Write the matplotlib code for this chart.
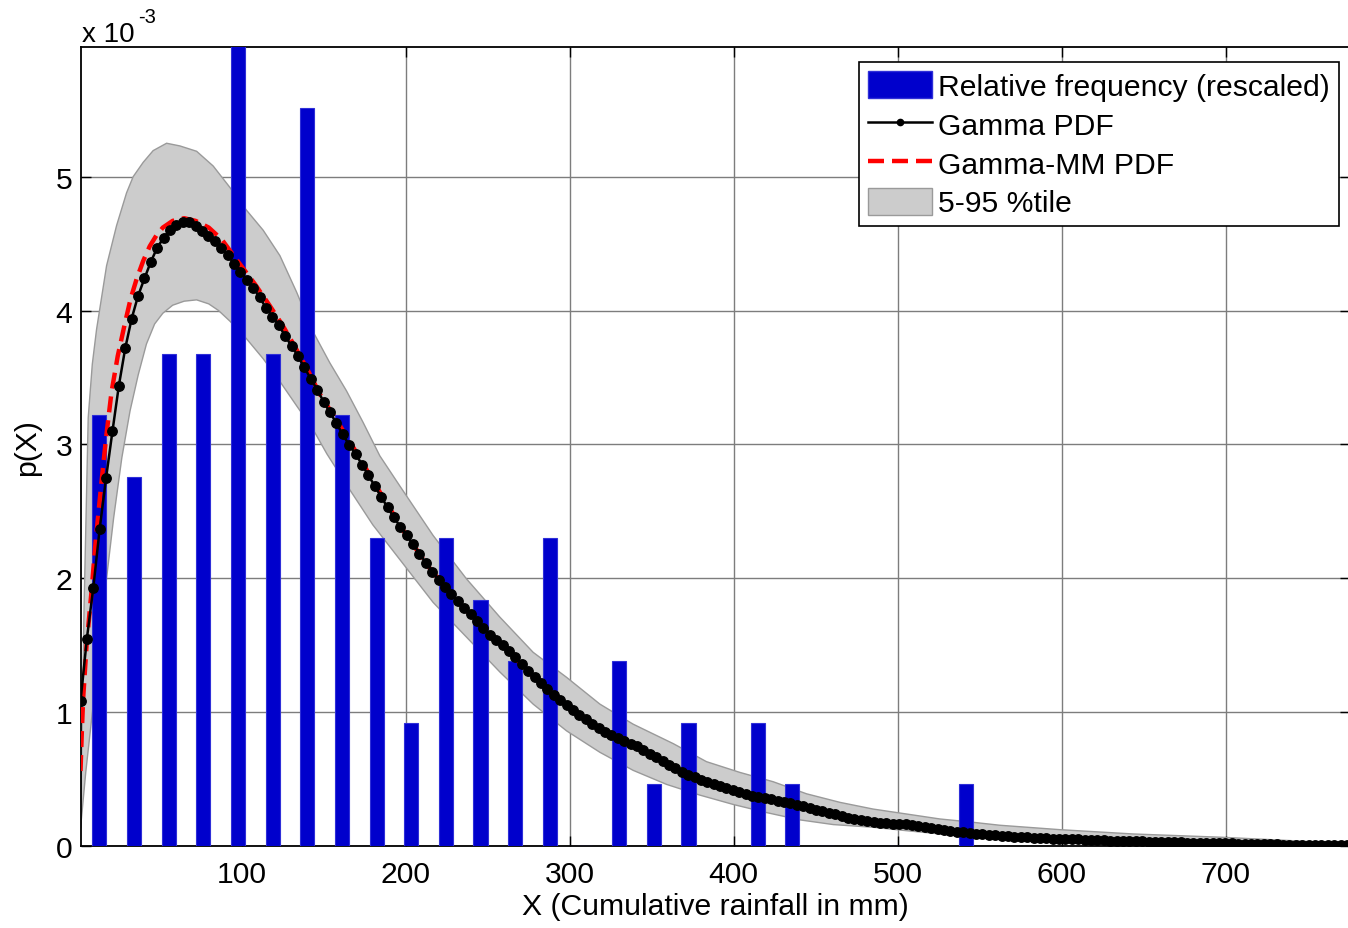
import numpy as np
import matplotlib
matplotlib.use("Agg")
import matplotlib.pyplot as plt
from matplotlib.patches import Patch
from matplotlib.lines import Line2D

plt.rcParams['font.family'] = ['Liberation Sans', 'DejaVu Sans']

# ---------------- data (y values in units of 1e-3) ----------------
# histogram (rescaled relative frequency)
bin_centers = [13.3 + 21.13 * i for i in range(26)]
bin_counts = [7, 6, 8, 8, 13, 8, 12, 7, 5, 2, 5, 4, 3, 5, 0, 3, 1, 2, 0, 2, 1, 0, 0, 0, 0, 1]
bin_width = 21.13

# Gamma PDF sample grid and values
pdf_x0, pdf_dx, pdf_n = 1.8, 3.9, 200
gamma_pdf = [
    1.08, 1.55, 1.93, 2.37, 2.75, 3.10, 3.44, 3.72, 3.94, 4.11,
    4.24, 4.365, 4.47, 4.545, 4.60, 4.64, 4.66, 4.66, 4.635, 4.595,
    4.56, 4.52, 4.47, 4.415, 4.35, 4.29, 4.23, 4.17, 4.10, 4.02,
    3.955, 3.89, 3.81, 3.735, 3.66, 3.575, 3.49, 3.41, 3.32, 3.24,
    3.16, 3.075, 2.995, 2.93, 2.85, 2.77, 2.69, 2.61, 2.53, 2.455,
    2.385, 2.32, 2.255, 2.185, 2.115, 2.05, 1.99, 1.935, 1.88, 1.83,
    1.78, 1.73, 1.68, 1.63, 1.58, 1.54, 1.50, 1.455, 1.41, 1.36,
    1.305, 1.26, 1.215, 1.17, 1.13, 1.09, 1.05, 1.015, 0.98, 0.948,
    0.912, 0.88, 0.852, 0.827, 0.805, 0.785, 0.765, 0.745, 0.72, 0.69,
    0.662, 0.633, 0.605, 0.58, 0.555, 0.533, 0.513, 0.494, 0.478, 0.465,
    0.45, 0.432, 0.415, 0.40, 0.388, 0.377, 0.367, 0.357, 0.348, 0.338,
    0.328, 0.318, 0.308, 0.298, 0.285, 0.272, 0.26, 0.248, 0.238, 0.226,
    0.212, 0.20, 0.191, 0.184, 0.179, 0.174, 0.17, 0.167, 0.165, 0.162,
    0.158, 0.153, 0.145, 0.135, 0.126, 0.119, 0.112, 0.107, 0.102, 0.097,
    0.092, 0.087, 0.083, 0.079, 0.076, 0.073, 0.07, 0.067, 0.065, 0.062,
    0.06, 0.058, 0.056, 0.054, 0.052, 0.05, 0.049, 0.047, 0.046, 0.044,
    0.043, 0.041, 0.04, 0.038, 0.037, 0.035, 0.034, 0.032, 0.031, 0.03,
    0.029, 0.028, 0.027, 0.026, 0.025, 0.024, 0.023, 0.022, 0.021, 0.02,
    0.019, 0.018, 0.017, 0.016, 0.015, 0.014, 0.013, 0.012, 0.011, 0.011,
    0.01, 0.009, 0.009, 0.008, 0.007, 0.007, 0.006, 0.006, 0.005, 0.005,
]

# Gamma-MM PDF
mm_x = [1.8, 2.6, 3.4, 5.5, 8.5, 11, 14.2, 17.3, 20.7, 24.5, 28.8, 32.4, 36, 40, 44,
        48, 52, 58, 65, 72, 80, 88, 97, 108, 117, 125, 133, 141, 148, 158, 170,
        185, 200, 215, 230, 245, 260, 275, 290, 305, 320, 335, 350, 365, 380,
        395, 410, 425, 440, 455, 470, 485, 500, 520, 540, 560, 580, 600, 630,
        660, 690, 720, 750, 778]
mm_pdf = [0.56, 0.85, 1.10, 1.50, 1.90, 2.27, 2.67, 3.04, 3.39, 3.66, 3.90, 4.09, 4.235, 4.37, 4.48,
          4.56, 4.62, 4.67, 4.69, 4.67, 4.62, 4.53, 4.38, 4.20, 4.04, 3.89, 3.72, 3.54, 3.37, 3.18, 2.94,
          2.63, 2.33, 2.07, 1.85, 1.66, 1.49, 1.30, 1.135, 0.99, 0.865, 0.77, 0.68, 0.575, 0.49,
          0.43, 0.38, 0.34, 0.30, 0.25, 0.195, 0.175, 0.163, 0.13, 0.10, 0.078, 0.062, 0.052, 0.04,
          0.03, 0.022, 0.015, 0.009, 0.005]

# 5-95 percentile band
up_x = [1.8, 4, 6.5, 9, 11.6, 17.7, 23.8, 29.9, 33.9, 40, 46.1, 54.3, 62.4, 72.6, 82.7,
        92.9, 103, 113.2, 123.4, 133.5, 143.7, 153.8, 164, 174.1, 184.3, 196.5, 216.8,
        237.2, 257.5, 277.8, 298.2, 318.5, 338.8, 363.2, 383.5, 403.8, 424.2, 444.5,
        464.9, 485.1, 505.5, 525.8, 546.1, 562.4, 599, 643.5, 698.3, 740, 778]
up_pdf = [0.15, 1.8, 3.2, 3.6, 3.86, 4.335, 4.635, 4.88, 5.0, 5.107, 5.195, 5.25, 5.23, 5.19, 5.08,
          4.92, 4.75, 4.60, 4.41, 4.14, 3.84, 3.61, 3.40, 3.165, 2.915, 2.69, 2.32,
          1.995, 1.71, 1.447, 1.26, 1.06, 0.91, 0.765, 0.63, 0.55, 0.48, 0.39,
          0.326, 0.276, 0.239, 0.202, 0.177, 0.155, 0.122, 0.09, 0.065, 0.04, 0.015]
lo_x = [1.8, 5, 9.5, 13.5, 17.7, 22, 27, 32, 37, 42, 47, 52, 58, 65, 72.6, 80, 86, 93,
        103, 113.2, 123.4, 133.5, 143.7, 152, 165, 180, 196.5, 216.8, 237.2, 257.5,
        277.8, 298.2, 318.5, 338.8, 359.2, 379.5, 399.9, 420, 440.5, 460.8, 485, 505,
        526, 546, 570, 600, 650, 700, 778]
lo_pdf = [0.13, 0.55, 1.05, 1.55, 2.0, 2.45, 2.9, 3.25, 3.52, 3.75, 3.9, 3.98, 4.04, 4.07, 4.08, 4.05, 4.0, 3.92,
          3.79, 3.64, 3.47, 3.29, 3.11, 2.93, 2.68, 2.40, 2.14, 1.82, 1.56, 1.30,
          1.06, 0.86, 0.70, 0.565, 0.46, 0.38, 0.31, 0.25, 0.195, 0.16, 0.14, 0.115,
          0.09, 0.068, 0.05, 0.04, 0.025, 0.012, 0.0]

x_ticks = [100, 200, 300, 400, 500, 600, 700]
y_ticks = [0, 1, 2, 3, 4, 5]

# ---------------- figure ----------------
FS = 21.7
W, H = 1348, 929
fig = plt.figure(figsize=(W / 100, H / 100), dpi=100)
L, R, T, B = 80.5, 1350, 48, 847
ax = fig.add_axes([L / W, (H - B) / H, (R - L) / W, (B - T) / H])

# band (polygon through upper then reversed lower)
band_x = list(up_x) + list(lo_x[::-1])
band_y = list(up_pdf) + list(lo_pdf[::-1])
ax.fill(band_x, band_y, facecolor='#cccccc', edgecolor='#9a9a9a', lw=1.0, zorder=2)

# bars
counts = np.array(bin_counts, dtype=float)
density = counts / (counts.sum() * bin_width) * 1e3
ax.bar(bin_centers, density, width=8.6, color='#0000cc', edgecolor='#2f2fd8',
       linewidth=0.8, zorder=3)

# Gamma-MM PDF
ax.plot(mm_x, mm_pdf, color='#ff0000', lw=3.2, linestyle=(0, (3.6, 1.8)), zorder=4,
        solid_capstyle='butt', dash_capstyle='butt')

# Gamma PDF
gx = pdf_x0 + pdf_dx * np.arange(pdf_n)
ax.plot(gx, gamma_pdf, color='black', lw=1.8, marker='o', markersize=6.8,
        markerfacecolor='black', markeredgecolor='black', zorder=5)

xmin = pdf_x0
px_per_unit = 1.640
xmax = xmin + (R - L) / px_per_unit
ax.set_xlim(xmin, xmax)
ax.set_ylim(0, 5.969)

ax.set_xticks(x_ticks)
ax.set_yticks(y_ticks)
ax.tick_params(direction='in', length=7, width=1, labelsize=FS, top=True, right=True,
               colors='black')
ax.tick_params(axis='x', pad=10)
ax.tick_params(axis='y', pad=6)
ax.grid(True, color='#7d7d7d', linestyle='-', linewidth=1.0, zorder=1)
ax.set_axisbelow(True)
for s in ['left', 'bottom', 'top']:
    ax.spines[s].set_linewidth(1.3)
ax.spines['right'].set_visible(False)

ax.set_xlabel('X (Cumulative rainfall in mm)', fontsize=FS, labelpad=3)
ax.set_ylabel('p(X)', fontsize=FS, labelpad=10)

fig.text(82 / W, (H - 42) / H, 'x 10', fontsize=20, ha='left', va='baseline')
fig.text(138 / W, (H - 23) / H, '-3', fontsize=14.5, ha='left', va='baseline')

handles = [
    Patch(facecolor='#0000cc', edgecolor='#2f2fd8'),
    Line2D([], [], color='black', lw=1.8, marker='o', markersize=4.5),
    Line2D([], [], color='#ff0000', lw=3.2, linestyle=(0, (3.6, 1.8))),
    Patch(facecolor='#cccccc', edgecolor='#9a9a9a'),
]
labels = ['Relative frequency (rescaled)', 'Gamma PDF', 'Gamma-MM PDF', '5-95 %tile']
leg = ax.legend(handles, labels, loc='upper right',
                bbox_to_anchor=(1339 / W, (H - 63) / H), bbox_transform=fig.transFigure,
                fontsize=FS, frameon=True, fancybox=False, framealpha=1,
                edgecolor='black', handlelength=2.1, handleheight=1.0,
                handletextpad=0.22, labelspacing=0.3, borderpad=0.3,
                borderaxespad=0)
leg.get_frame().set_linewidth(1.2)
leg.set_zorder(10)

fig.savefig('out.png', dpi=100)
